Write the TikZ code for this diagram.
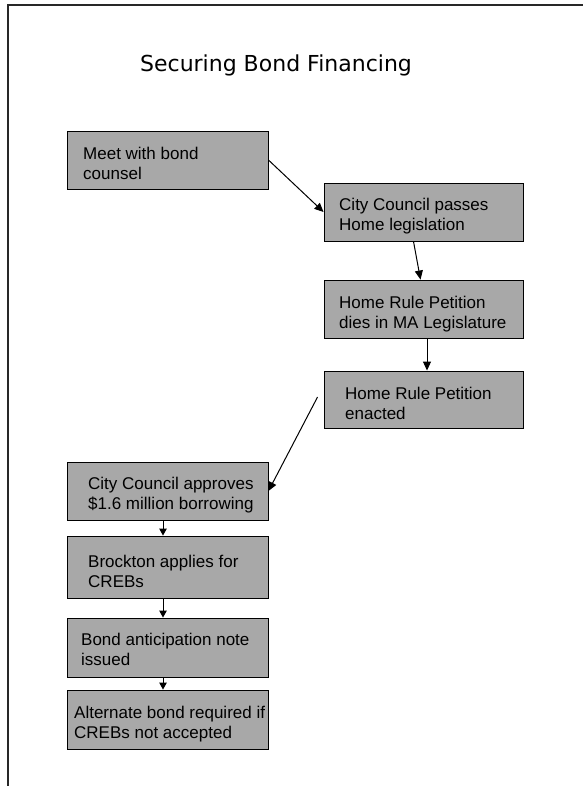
\documentclass[tikz,border=0pt]{standalone}
\usepackage{fontspec}
\setmainfont{Liberation Sans}
\newfontfamily\titlefont{DejaVu Sans}
\usetikzlibrary{arrows.meta}

\definecolor{boxgray}{RGB}{168,168,168}
\definecolor{framegray}{RGB}{40,40,40}

\begin{document}
\begin{tikzpicture}[x=1pt,y=-1pt,
  stepbox/.style={draw=black, line width=0.9pt, fill=boxgray, inner sep=0pt,
    minimum width=201pt, minimum height=58pt},
  steptext/.style={anchor=north west, inner sep=0pt, align=left,
    font=\fontsize{17}{20}\selectfont},
  flow/.style={draw=black, line width=1pt,
    -{Triangle[length=9pt,width=8pt]}},
  smallflow/.style={draw=black, line width=1pt,
    -{Triangle[length=7pt,width=7.5pt]}}]

% page and frame
\useasboundingbox (0,0) rectangle (583,786);
\fill[white] (0,0) rectangle (583,786);
\draw[framegray, line width=1.8pt] (8,786) -- (8,5) -- (583,5);

% title
\node[anchor=base, inner sep=0pt, font=\titlefont\fontsize{22}{26}\selectfont]
  (title) at (276,72) {Securing Bond Financing};

% step boxes
\node[stepbox] (b1) at (167.5,160) {};
\node[stepbox, minimum width=199pt] (b2) at (423.5,212) {};
\node[stepbox, minimum width=199pt] (b3) at (423.5,309) {};
\node[stepbox, minimum width=199pt, minimum height=57pt] (b4) at (423.5,399.5) {};
\node[stepbox] (b5) at (167.5,491) {};
\node[stepbox, minimum height=62pt] (b6) at (167.5,567) {};
\node[stepbox, minimum height=59pt] (b7) at (167.5,647.5) {};
\node[stepbox, minimum height=59pt] (b8) at (167.5,719.5) {};

% step texts
\node[steptext] (t1) at (83,147) {Meet with bond\\counsel};
\node[steptext] (t2) at (339,198) {City Council passes\\Home legislation};
\node[steptext] (t3) at (339,296) {Home Rule Petition\\dies in MA Legislature};
\node[steptext] (t4) at (345,387) {Home Rule Petition\\enacted};
\node[steptext] (t5) at (88,477) {City Council approves\\\$1.6 million borrowing};
\node[steptext] (t6) at (88,555) {Brockton applies for\\CREBs};
\node[steptext] (t7) at (81,633) {Bond anticipation note\\issued};
\begin{scope}
  \clip (b8.north west) rectangle (b8.south east);
  \node[steptext] (t8) at (74,706) {Alternate bond required if\\CREBs not accepted};
\end{scope}

% connectors
\draw[flow] (b1.east) -- (b2.west);
\draw[flow] ([xshift=-10pt]b2.south) -- ([xshift=-3pt]b3.north);
\draw[flow] ([xshift=3.5pt]b3.south) -- ([xshift=3.5pt]b4.north);
\draw[flow] ([xshift=-6pt,yshift=2.5pt]b4.west) -- (b5.east);
\draw[smallflow] ([xshift=-4.5pt]b5.south) -- ([xshift=-4.5pt]b6.north);
\draw[smallflow] ([xshift=-4.5pt]b6.south) -- ([xshift=-4.5pt]b7.north);
\draw[smallflow] ([xshift=-4.5pt]b7.south) -- ([xshift=-4.5pt]b8.north);
\end{tikzpicture}
\end{document}
